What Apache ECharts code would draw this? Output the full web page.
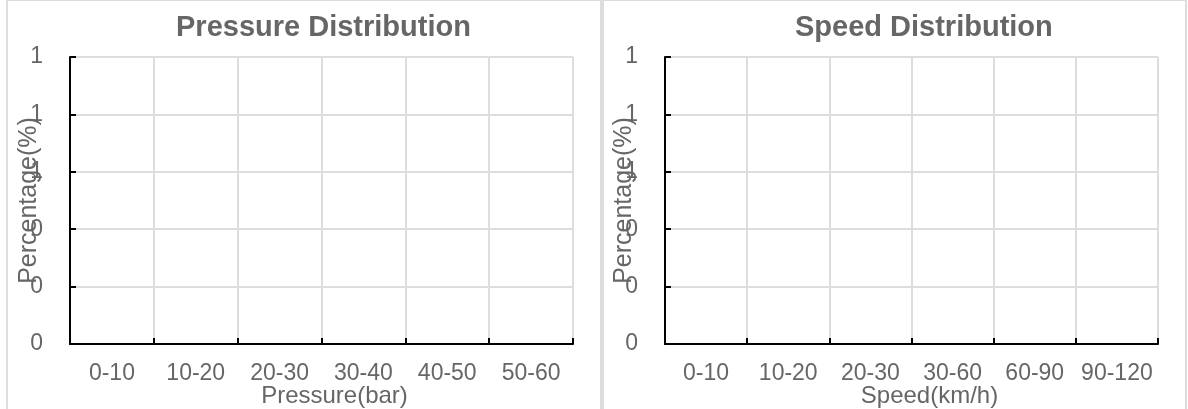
<!DOCTYPE html>
<html>
<head>
<meta charset="utf-8">
<script src="https://cdn.jsdelivr.net/npm/echarts@6/dist/echarts.min.js"></script>
<style>
  html, body { margin: 0; padding: 0; background: #fff; overflow: hidden; }
  .panel {
    position: absolute;
    top: -1px;
    height: 420px;
    border: 2px solid #ddd;
    box-sizing: content-box;
  }
  .chart { width: 100%; height: 408px; }
</style>
</head>
<body>
<div class="panel" style="left: 6px; width: 592px;"><div id="pressureChart" class="chart"></div></div>
<div class="panel" style="left: 602px; width: 581px;"><div id="speedChart" class="chart"></div></div>
<script>
// 分类 & 数据
const pressureCategories = ["0-10", "10-20", "20-30", "30-40", "40-50", "50-60"];
const pressureValues = [0, 0, 0, 0, 0, 0];
const speedCategories = ["0-10", "10-20", "20-30", "30-60", "60-90", "90-120"];
const speedValues = [0, 0, 0, 0, 0, 0];

const FONT = "'Liberation Sans', Arial, sans-serif";

const buildOption = (title, titleLeft, xName, xNameShift, categories, values, gridLeft) => {
  return {
    animation: false,
    title: {
      text: title,
      left: titleLeft,
      top: 12,
      padding: 0,
      textStyle: {
        color: "#666",
        fontSize: 29,
        fontWeight: "bold",
        fontFamily: FONT,
      },
    },
    grid: {
      left: gridLeft,
      right: 27,
      top: 56,
      bottom: 65,
      containLabel: false,
      outerBoundsMode: "none",
    },
    xAxis: {
      type: "category",
      data: categories,
      name: xName,
      nameLocation: "middle",
      nameGap: 40,
      nameMoveOverlap: false,
      nameTextStyle: {
        color: "#666",
        fontSize: 24,
        fontFamily: FONT,
        padding: [0, 0, 0, xNameShift * 2],
      },
      axisLine: { show: true, lineStyle: { color: "#000", width: 2 } },
      axisTick: { show: true, inside: true, length: 6, lineStyle: { color: "#000", width: 2 } },
      axisLabel: { color: "#666", fontSize: 23, fontFamily: FONT, margin: 18, interval: 0 },
      splitLine: { show: true, lineStyle: { color: "#ddd", width: 2 } },
    },
    yAxis: {
      type: "value",
      name: "Percentage(%)",
      nameLocation: "middle",
      nameGap: 28,
      nameMoveOverlap: false,
      nameTextStyle: { color: "#666", fontSize: 25, fontFamily: FONT },
      min: 0,
      max: 1,
      interval: 0.2,
      axisLine: { show: true, lineStyle: { color: "#000", width: 2 } },
      axisTick: { show: true, inside: true, length: 6, lineStyle: { color: "#000", width: 2 } },
      axisLabel: {
        color: "#666",
        fontSize: 23,
        fontFamily: FONT,
        margin: 27,
        formatter: (value) => value.toFixed(0),
      },
      splitLine: { show: true, lineStyle: { color: "#ddd", width: 2 } },
    },
    series: [
      {
        type: "bar",
        data: values,
        itemStyle: { color: "#5470c6" },
      },
    ],
  };
};

const pressureChart = echarts.init(document.getElementById("pressureChart"));
pressureChart.setOption(
  buildOption("Pressure Distribution", 168, "Pressure(bar)", 13, pressureCategories, pressureValues, 62)
);

const speedChart = echarts.init(document.getElementById("speedChart"));
speedChart.setOption(
  buildOption("Speed Distribution", 191, "Speed(km/h)", 18, speedCategories, speedValues, 61)
);
</script>
</body>
</html>
